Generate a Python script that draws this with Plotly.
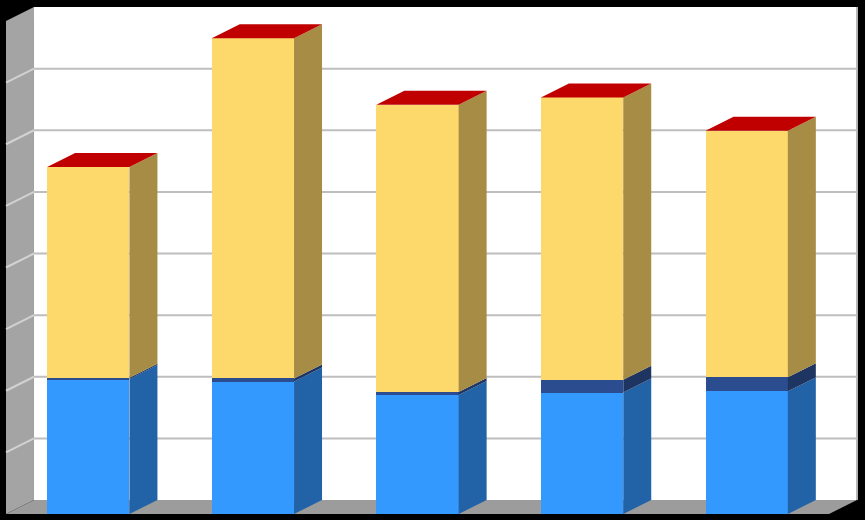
#!/usr/bin/env python

import plotly.graph_objects as go


CATEGORIES = ['1', '2', '3', '4', '5']
BLUE = [2.19, 2.15, 1.93, 1.97, 1.99]
NAVY = [0.02, 0.05, 0.05, 0.21, 0.23]
YELLOW = [3.42, 5.52, 4.66, 4.58, 4.00]
RED = [0.0, 0.0, 0.0, 0.0, 0.0]
GRID = [1, 2, 3, 4, 5, 6, 7]
Y_MAX = 8

# (name, values, front colour, side colour)
SERIES = [
    ('blue', BLUE, '#3399FF', '#2262A6'),
    ('navy', NAVY, '#2B4C8E', '#1E3562'),
    ('yellow', YELLOW, '#FDD86A', '#A68C44'),
    ('red', RED, '#C00000', '#8A0000'),
]

WIDTH = 0.5     # bar width in category units
DX = 0.17       # 3D depth, horizontal
DY = 0.227      # 3D depth, vertical


def side_path(xs, lows, highs):
    '''
    Right side faces of one series, as one gapped polygon trace.
    '''
    px, py = [], []
    for x, lo, hi in zip(xs, lows, highs):
        r = x + WIDTH / 2
        px += [r, r, r + DX, r + DX, r, None]
        py += [lo, hi, hi + DY, lo + DY, lo, None]
    return px, py


def top_path(xs, tops):
    '''
    Top faces of the bars.
    '''
    px, py = [], []
    for x, t in zip(xs, tops):
        l, r = x - WIDTH / 2, x + WIDTH / 2
        px += [l, r, r + DX, l + DX, l, None]
        py += [t, t, t + DY, t + DY, t, None]
    return px, py


def main():
    xs = list(range(len(CATEGORIES)))
    fig = go.Figure()

    base = [0.0] * len(xs)
    for name, values, front, side in SERIES:
        fig.add_trace(go.Bar(x=xs, y=values, base=base, width=WIDTH,
                             marker=dict(color=front, line=dict(width=0)),
                             name=name, showlegend=False, hoverinfo='skip'))
        top = [b + v for b, v in zip(base, values)]
        px, py = side_path(xs, base, top)
        fig.add_trace(go.Scatter(x=px, y=py, mode='lines', fill='toself',
                                 fillcolor=side, line=dict(width=0, color=side),
                                 showlegend=False, hoverinfo='skip'))
        base = top

    # Top faces take the colour of the top series.
    px, py = top_path(xs, base)
    fig.add_trace(go.Scatter(x=px, y=py, mode='lines', fill='toself',
                             fillcolor=SERIES[-1][2], line=dict(width=0, color=SERIES[-1][2]),
                             showlegend=False, hoverinfo='skip'))

    x0, x1 = -0.5, len(xs) - 0.5
    shapes = [
        # back wall
        dict(type='rect', x0=x0 + DX, x1=x1 + DX, y0=DY, y1=Y_MAX + DY,
             fillcolor='white', line=dict(width=0)),
        # left wall
        dict(type='path', fillcolor='#A4A4A4', line=dict(width=0),
             path=f'M{x0},0 L{x0 + DX},{DY} L{x0 + DX},{Y_MAX + DY} L{x0},{Y_MAX} Z'),
        # floor
        dict(type='path', fillcolor='#9C9C9C', line=dict(width=0),
             path=f'M{x0},0 L{x1},0 L{x1 + DX},{DY} L{x0 + DX},{DY} Z'),
        # right edge of back wall
        dict(type='line', x0=x1 + DX, x1=x1 + DX, y0=DY, y1=Y_MAX + DY,
             line=dict(color='#B8B8B8', width=2)),
    ]
    for g in GRID:
        shapes.append(dict(type='line', x0=x0 + DX, x1=x1 + DX, y0=g + DY, y1=g + DY,
                           line=dict(color='#BEBEBE', width=2)))
        shapes.append(dict(type='line', x0=x0, x1=x0 + DX, y0=g, y1=g + DY,
                           line=dict(color='#D2D2D2', width=2)))
    for s in shapes:
        s['layer'] = 'below'
        s['xref'] = 'x'
        s['yref'] = 'y'

    px_x = 164.6
    px_y = 61.625
    fig.update_layout(
        width=865, height=520,
        margin=dict(l=0, r=0, t=0, b=0),
        paper_bgcolor='black', plot_bgcolor='black',
        barmode='overlay', bargap=0,
        shapes=shapes,
        xaxis=dict(visible=False, range=[x0 - 6 / px_x, x0 + (865 - 6) / px_x], fixedrange=True),
        yaxis=dict(visible=False, range=[-6 / px_y, 514 / px_y], fixedrange=True),
    )
    fig.write_html('out.html', config={'displayModeBar': False},
                   post_script="document.body.style.margin='0';")


if __name__ == '__main__':
    main()
